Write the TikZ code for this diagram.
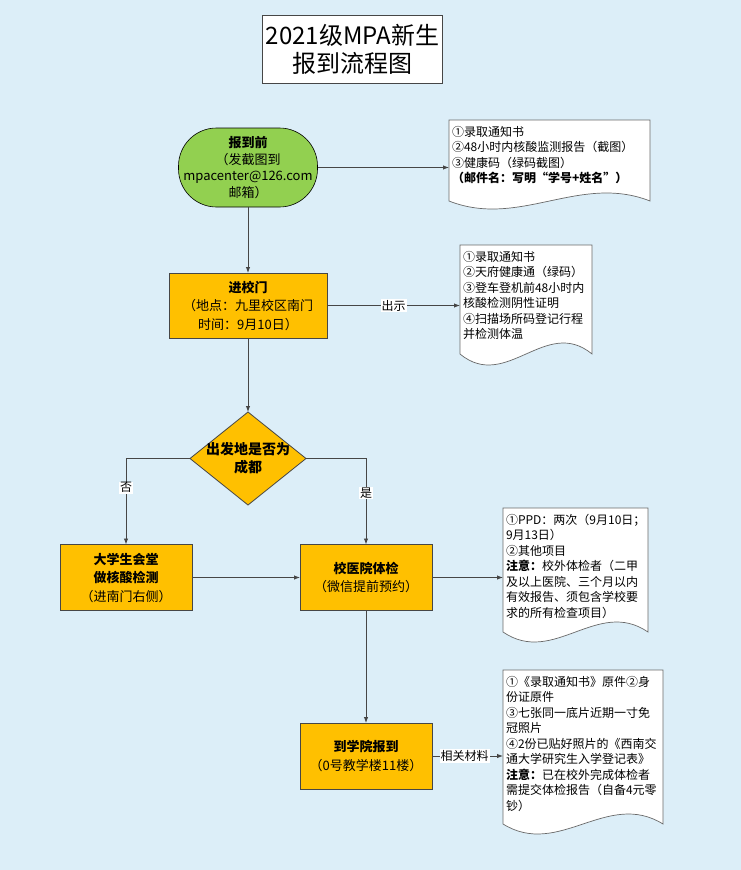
\documentclass[tikz,border=0pt]{standalone}
\usepackage{fontspec}
\setmainfont{Noto Sans CJK SC}
\usetikzlibrary{arrows.meta,shapes.geometric,calc}
\definecolor{bgblue}{RGB}{220,238,248}
\definecolor{fgreen}{RGB}{146,208,80}
\definecolor{forange}{RGB}{255,192,0}
\definecolor{edgegray}{RGB}{70,70,70}
\definecolor{docgray}{RGB}{105,105,105}
\newcommand\docshape[5]{%
  \pgfmathsetmacro\dsxr{#1+#3}%
  \pgfmathsetmacro\dsyb{#2+#4}%
  \pgfmathsetmacro\dsca{#5/0.2887}%
  \draw[docline] (#1,#2) -- (\dsxr,#2) -- (\dsxr,\dsyb)
    .. controls (#1+0.65*#3,\dsyb-\dsca) and (#1+0.35*#3,\dsyb+\dsca) .. (#1,\dsyb) -- cycle;}
\begin{document}
\begin{tikzpicture}[x=1pt,y=-1pt,
  box/.style={draw=edgegray, line width=0.8pt, fill=forange, minimum width=132pt,
    minimum height=66pt, align=center, inner sep=2pt, outer sep=0pt,
    font=\fontsize{13}{18.5}\selectfont},
  arr/.style={draw=edgegray, line width=0.9pt, -{Latex[length=6pt,width=4.5pt]}},
  lbl/.style={fill=white, inner sep=1pt, font=\fontsize{12}{14}\selectfont},
  doctext/.style={anchor=north west, align=left, inner xsep=3pt, inner ysep=6pt,
    outer sep=0pt, font=\fontsize{12}{15.5}\selectfont},
  docline/.style={draw=docgray, line width=0.7pt, fill=white}]
\fill[bgblue] (0,0) rectangle (741,870);
\useasboundingbox (0,0) rectangle (741,870);

% title
\node[draw=edgegray, fill=white, line width=0.8pt, minimum width=179pt, minimum height=68pt,
  align=center, font=\fontsize{24}{28}\selectfont] (title) at (352.5,49) {2021级MPA新生\\报到流程图};

% start
\node[draw={RGB:red,110;green,160;blue,60}, line width=0.6pt, fill=fgreen, rounded corners=38pt,
  minimum width=139pt, minimum height=79pt, align=center, inner sep=2pt, outer sep=0pt,
  font=\fontsize{13}{16.5}\selectfont] (start) at (248,167.5)
  {\textbf{报到前}\\（发截图到\\mpacenter@126.com\\邮箱）};

% gate
\node[box, minimum width=158pt, minimum height=65pt] (gate) at (248,305.5)
  {\textbf{进校门}\\（地点：九里校区南门\\时间：9月10日）};

% decision
\node[diamond, draw=edgegray, line width=0.8pt, fill=forange, minimum width=116pt,
  minimum height=93pt, inner sep=0pt, outer sep=0pt] (dec) at (248,458.5) {};
\node[align=center, font=\bfseries\fontsize{14}{18}\selectfont] (dectext) at (dec) {出发地是否为\\成都};

% hall, clinic, report
\node[box] (hall) at (126,577.5) {\textbf{大学生会堂}\\\textbf{做核酸检测}\\（进南门右侧）};
\node[box] (clinic) at (366,577.5) {\textbf{校医院体检}\\（微信提前预约）};
\node[box] (report) at (366,756) {\textbf{到学院报到}\\（0号教学楼11楼）};

% documents
\docshape{449}{120}{201}{81}{8}
\node[doctext] (d1) at (449,120) {①录取通知书\\②48小时内核酸监测报告（截图）\\③健康码（绿码截图）\\\textbf{（邮件名：写明“学号+姓名”）}};

\docshape{460}{245}{132}{109}{11}
\node[doctext] (d2) at (460,245) {①录取通知书\\②天府健康通（绿码）\\③登车登机前48小时内\\核酸检测阴性证明\\④扫描场所码登记行程\\并检测体温};

\docshape{503}{508}{145}{124}{10}
\node[doctext] (d3) at (503,508) {①PPD：两次（9月10日；\\9月13日）\\②其他项目\\\textbf{注意：}校外体检者（二甲\\及以上医院、三个月以内\\有效报告、须包含学校要\\求的所有检查项目）};

\docshape{503}{670}{160}{154}{10}
\node[doctext] (d4) at (503,670) {①《录取通知书》原件②身\\份证原件\\③七张同一底片近期一寸免\\冠照片\\④2份已贴好照片的《西南交\\通大学研究生入学登记表》\\\textbf{注意：}已在校外完成体检者\\需提交体检报告（自备4元零\\钞）};

% connectors
\draw[arr] (start.east) -- (start.east -| d1.west);
\draw[arr] (start.south) -- (start.south |- gate.north);
\draw[arr] (gate.east) -- node[lbl, pos=0.5]{出示} (gate.east -| d2.west);
\draw[arr] (gate.south) -- (dec.north);
\draw[arr] (dec.west) -| node[lbl, pos=0.67]{否} (hall.north);
\draw[arr] (dec.east) -| node[lbl, pos=0.70]{是} (clinic.north);
\draw[arr] (hall.east) -- (clinic.west);
\draw[arr] (clinic.east) -- (clinic.east -| d3.west);
\draw[arr] (clinic.south) -- (report.north);
\draw[arr] (report.east) -- node[lbl, pos=0.46]{相关材料} (report.east -| d4.west);
\end{tikzpicture}
\end{document}
